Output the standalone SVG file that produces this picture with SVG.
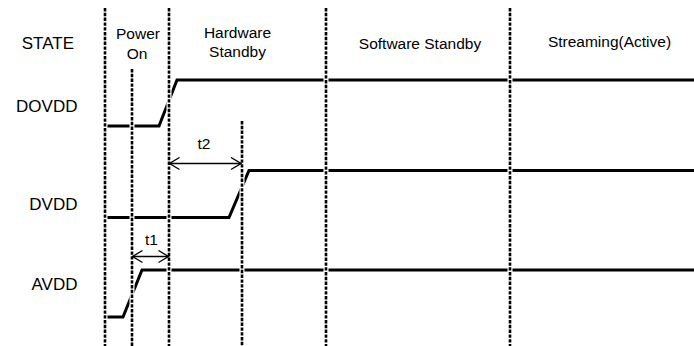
<svg xmlns="http://www.w3.org/2000/svg" width="694" height="346" viewBox="0 0 694 346">
<style>
.lbl{font-family:"Liberation Sans",Arial,sans-serif;font-size:17px;fill:#000}
.hdr{font-family:"Liberation Sans",Arial,sans-serif;font-size:15.5px;fill:#000;text-anchor:middle}
.sig{fill:none;stroke:#000;stroke-width:3;stroke-linejoin:miter}
.halo{stroke:#fff;stroke-width:5}
.dash{stroke:#000;stroke-width:2.6;stroke-dasharray:3.4 1.4}
.arr{fill:none;stroke:#000;stroke-width:1.3}
</style>
<defs>
<marker id="ah" viewBox="0 0 12 14" refX="11" refY="7" markerWidth="12" markerHeight="14" markerUnits="userSpaceOnUse" orient="auto-start-reverse">
<path d="M1,1 L11,7 L1,13" fill="none" stroke="#000" stroke-width="1.3"/>
</marker>
</defs>
<rect width="694" height="346" fill="#fff"/>
<g id="labels">
<text class="lbl" x="74" y="49" text-anchor="end">STATE</text>
<text class="hdr" x="138" y="39">Power</text>
<text class="hdr" x="137" y="59">On</text>
<text class="hdr" x="237.5" y="38">Hardware</text>
<text class="hdr" x="237.5" y="57">Standby</text>
<text class="hdr" x="420" y="49">Software Standby</text>
<text class="hdr" x="609.5" y="47">Streaming(Active)</text>
</g>
<g id="DOVDD">
<text class="lbl" x="77.5" y="111.5" text-anchor="end">DOVDD</text>
<polyline class="sig" points="105,126 159,126 177,80 694,80"/>
</g>
<g id="DVDD">
<text class="lbl" x="77.5" y="210" text-anchor="end">DVDD</text>
<polyline class="sig" points="105,217.5 229,217.5 249,170.5 694,170.5"/>
</g>
<g id="AVDD">
<text class="lbl" x="77.5" y="290" text-anchor="end">AVDD</text>
<polyline class="sig" points="105,317 123,317 142,270 694,270"/>
</g>
<g id="connectors">
<g class="halo">
<line x1="105" y1="8" x2="105" y2="346"/>
<line x1="132" y1="69" x2="132" y2="346"/>
<line x1="169" y1="8" x2="169" y2="346"/>
<line x1="242" y1="121" x2="242" y2="346"/>
<line x1="326" y1="8" x2="326" y2="346"/>
<line x1="510" y1="8" x2="510" y2="346"/>
</g>
<g class="dash">
<line x1="105" y1="8" x2="105" y2="346"/>
<line x1="132" y1="69" x2="132" y2="346"/>
<line x1="169" y1="8" x2="169" y2="346"/>
<line x1="242" y1="121" x2="242" y2="346"/>
<line x1="326" y1="8" x2="326" y2="346"/>
<line x1="510" y1="8" x2="510" y2="346"/>
</g>
<line class="arr" x1="169.5" y1="163.5" x2="241" y2="163.5" marker-start="url(#ah)" marker-end="url(#ah)"/>
<line class="arr" x1="132.5" y1="256.5" x2="168.5" y2="256.5" marker-start="url(#ah)" marker-end="url(#ah)"/>
</g>
<g id="timing-labels">
<text class="hdr" x="204" y="149">t2</text>
<text class="hdr" x="151.5" y="245">t1</text>
</g>
</svg>
